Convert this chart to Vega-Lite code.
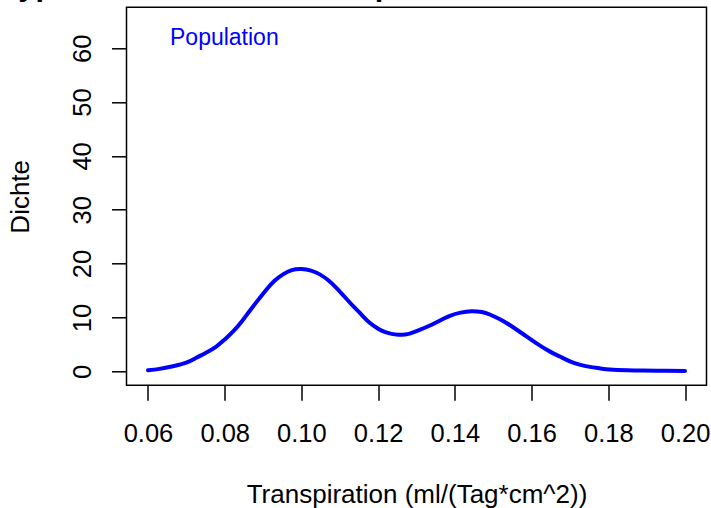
{
  "$schema": "https://vega.github.io/schema/vega-lite/v6.json",
  "width": 580,
  "height": 378,
  "autosize": {"type": "none"},
  "padding": {"left": 126.5, "top": 7.3, "right": 4.5, "bottom": 122.7},
  "background": "white",
  "config": {
    "font": "Liberation Sans",
    "view": {"stroke": "black", "strokeWidth": 1.5},
    "axis": {
      "domain": false,
      "grid": false,
      "tickColor": "black",
      "tickWidth": 1.5,
      "tickSize": 15,
      "labelFont": "Liberation Sans",
      "labelFontSize": 25.5,
      "labelColor": "black",
      "labelOverlap": false,
      "labelFlush": false,
      "titleFont": "Liberation Sans",
      "titleFontSize": 26,
      "titleFontWeight": "normal",
      "titleColor": "black"
    }
  },
  "title": {
    "text": "Hypothese: Die beiden Populationen sind unterschiedlich",
    "font": "Liberation Sans",
    "fontSize": 30.7,
    "fontWeight": "bold",
    "color": "black",
    "anchor": "middle",
    "frame": "group",
    "baseline": "alphabetic",
    "offset": 0,
    "dy": 18
  },
  "data": {
    "values": [
      {"x": 0.060, "y": 0.19},
      {"x": 0.063, "y": 0.45},
      {"x": 0.0665, "y": 0.93},
      {"x": 0.070, "y": 1.6},
      {"x": 0.0726, "y": 2.5},
      {"x": 0.075, "y": 3.4},
      {"x": 0.0778, "y": 4.6},
      {"x": 0.080, "y": 5.9},
      {"x": 0.0822, "y": 7.4},
      {"x": 0.0845, "y": 9.3},
      {"x": 0.0865, "y": 11.2},
      {"x": 0.089, "y": 13.5},
      {"x": 0.0909, "y": 15.2},
      {"x": 0.093, "y": 16.8},
      {"x": 0.0952, "y": 18.0},
      {"x": 0.0975, "y": 18.8},
      {"x": 0.100, "y": 19.0},
      {"x": 0.1025, "y": 18.7},
      {"x": 0.1048, "y": 18.0},
      {"x": 0.107, "y": 16.9},
      {"x": 0.1091, "y": 15.5},
      {"x": 0.1113, "y": 13.8},
      {"x": 0.1135, "y": 12.1},
      {"x": 0.1157, "y": 10.5},
      {"x": 0.1178, "y": 9.0},
      {"x": 0.120, "y": 7.9},
      {"x": 0.1217, "y": 7.3},
      {"x": 0.1235, "y": 6.95},
      {"x": 0.1252, "y": 6.8},
      {"x": 0.127, "y": 6.85},
      {"x": 0.1282, "y": 7.0},
      {"x": 0.130, "y": 7.45},
      {"x": 0.1335, "y": 8.5},
      {"x": 0.136, "y": 9.4},
      {"x": 0.1387, "y": 10.3},
      {"x": 0.1415, "y": 10.9},
      {"x": 0.1443, "y": 11.15},
      {"x": 0.147, "y": 11.0},
      {"x": 0.1491, "y": 10.55},
      {"x": 0.1515, "y": 9.75},
      {"x": 0.1543, "y": 8.6},
      {"x": 0.157, "y": 7.3},
      {"x": 0.1595, "y": 6.05},
      {"x": 0.162, "y": 4.85},
      {"x": 0.1647, "y": 3.7},
      {"x": 0.1675, "y": 2.7},
      {"x": 0.170, "y": 1.86},
      {"x": 0.1725, "y": 1.25},
      {"x": 0.1752, "y": 0.82},
      {"x": 0.178, "y": 0.52},
      {"x": 0.1804, "y": 0.32},
      {"x": 0.185, "y": 0.18},
      {"x": 0.189, "y": 0.13},
      {"x": 0.195, "y": 0.09},
      {"x": 0.200, "y": 0.07}
    ]
  },
  "transform": [{"calculate": "'Population'", "as": "serie"}],
  "mark": {"type": "line", "strokeWidth": 4, "interpolate": "natural", "strokeCap": "round"},
  "encoding": {
    "x": {
      "field": "x",
      "type": "quantitative",
      "scale": {"domain": [0.0544, 0.2056], "nice": false, "zero": false},
      "axis": {
        "values": [0.06, 0.08, 0.10, 0.12, 0.14, 0.16, 0.18, 0.20],
        "format": ".2f",
        "labelBaseline": "alphabetic",
        "labelPadding": 41.5,
        "title": "Transpiration (ml/(Tag*cm^2))",
        "titleBaseline": "alphabetic",
        "titleY": 117
      }
    },
    "y": {
      "field": "y",
      "type": "quantitative",
      "scale": {"domain": [-2.6, 67.6], "nice": false, "zero": false},
      "axis": {
        "values": [0, 10, 20, 30, 40, 50, 60],
        "labelAngle": -90,
        "labelAlign": "center",
        "labelBaseline": "alphabetic",
        "labelPadding": 21.5,
        "title": "Dichte",
        "titleAngle": -90,
        "titleAlign": "center",
        "titleBaseline": "alphabetic",
        "titleX": -98.5,
        "titleY": 189
      }
    },
    "color": {
      "field": "serie",
      "type": "nominal",
      "scale": {"range": ["#0000FF"]},
      "legend": {
        "orient": "none",
        "legendX": 20.5,
        "legendY": 26,
        "title": null,
        "symbolSize": 0,
        "symbolOpacity": 0,
        "symbolStrokeWidth": 0,
        "labelOffset": 0,
        "labelColor": "#0000FF",
        "labelFont": "Liberation Sans",
        "labelFontSize": 23,
        "labelBaseline": "alphabetic",
        "padding": 0
      }
    }
  }
}
